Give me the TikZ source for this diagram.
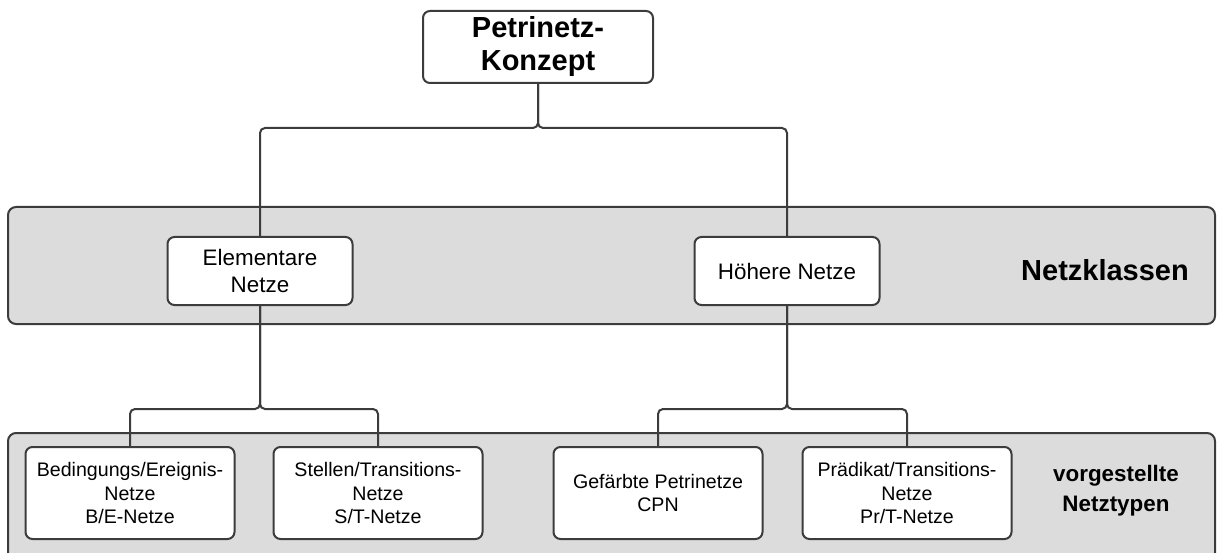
\documentclass[tikz,border=0pt]{standalone}
\usepackage{fontspec}
\setmainfont{Liberation Sans}
\definecolor{ln}{HTML}{3C3C3C}
\definecolor{bnd}{HTML}{DCDCDC}
\begin{document}
\begin{tikzpicture}[x=1pt,y=-1pt]
\tikzset{link/.style={draw=ln,line width=2pt,rounded corners=5pt}}
\tikzstyle{item}=[draw=ln,fill=white,line width=2pt,rounded corners=7pt,align=center,inner sep=0pt]
\tikzstyle{mid}=[item,minimum width=185,minimum height=68,font=\fontsize{22.4}{27}\selectfont]
\tikzstyle{low}=[item,minimum width=209,minimum height=92,font=\fontsize{19.6}{23.5}\selectfont]
\tikzstyle{band}=[draw=ln,fill=bnd,line width=2pt,rounded corners=8pt]
\useasboundingbox (0,0) rectangle (1220,553);
\clip (0,0) rectangle (1220,553);
\draw[band] (8,207) rectangle (1215,324);
\draw[band] (8,433) rectangle (1215,590);
\node[item,minimum width=230,minimum height=72,font=\bfseries\fontsize{29}{33}\selectfont] (pk)at(538,47){Petrinetz-\\Konzept};
\node[mid] (en)at(260,271){Elementare\\Netze};
\node[mid] (hn)at(787,271){Höhere Netze};
\node[low] (be)at(130,493){Bedingungs/Ereignis-\\Netze\\B/E-Netze};
\node[low] (st)at(378,493){Stellen/Transitions-\\Netze\\S/T-Netze};
\node[low] (cpn)at(658,493){Gefärbte Petrinetze\\CPN};
\node[low] (prt)at(907,493){Prädikat/Transitions-\\Netze\\Pr/T-Netze};
\node[font=\bfseries\fontsize{29}{33}\selectfont] (nk)at(1105,270){Netzklassen};
\node[align=center,font=\bfseries\fontsize{22.4}{30}\selectfont] (nt)at(1116,491){vorgestellte\\Netztypen};
\coordinate (b0)at(538,128);
\coordinate (b1)at(260,409);
\coordinate (b2)at(787,409);
\draw[link] (pk.south)--(b0)-|(en.north);
\draw[link] (pk.south)--(b0)-|(hn.north);
\draw[link] (en.south)--(b1)-|(be.north);
\draw[link] (en.south)--(b1)-|(st.north);
\draw[link] (hn.south)--(b2)-|(cpn.north);
\draw[link] (hn.south)--(b2)-|(prt.north);
\end{tikzpicture}
\end{document}
